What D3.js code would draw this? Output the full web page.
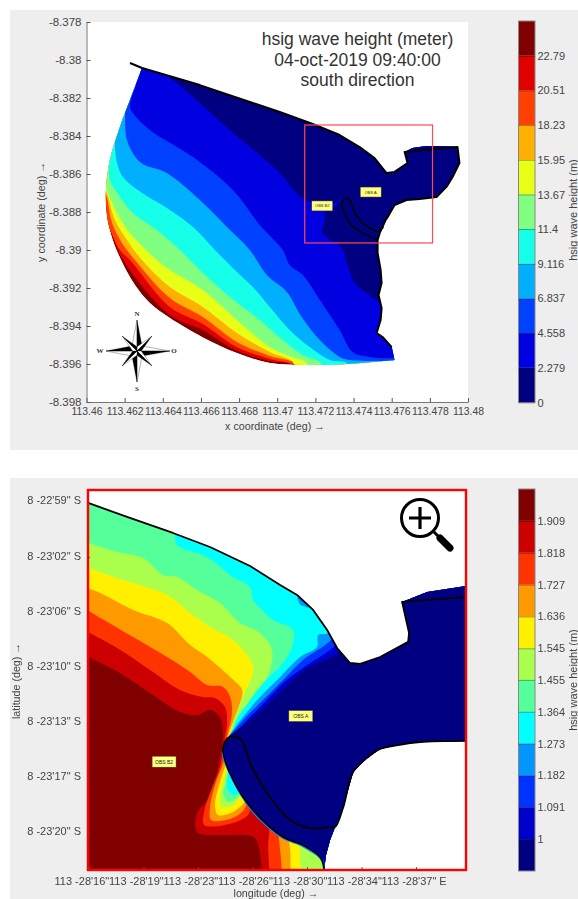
<!DOCTYPE html>
<html>
<head>
<meta charset="utf-8">
<script src="https://cdn.jsdelivr.net/npm/d3@7"></script>
<style>
  html, body { margin: 0; padding: 0; background: #fff; }
  svg { display: block; filter: blur(0.5px); font-family: "Liberation Sans", Arial, sans-serif; }
  .tick text { fill: #444; }
  .label { fill: #444; }
</style>
</head>
<body>
<svg id="chart" width="578" height="899"></svg>
<script>
// ---------- upper map: wave height, whole bay ----------
const titleLines = ["hsig wave height (meter)", "04-oct-2019 09:40:00", "south direction"];
const topLonTicks = [113.46, 113.462, 113.464, 113.466, 113.468, 113.47, 113.472, 113.474, 113.476, 113.478, 113.48];
const topLatTicks = [-8.378, -8.38, -8.382, -8.384, -8.386, -8.388, -8.39, -8.392, -8.394, -8.396, -8.398];
const topEdges = [0, 2.279, 4.558, 6.837, 9.116, 11.4, 13.67, 15.95, 18.23, 20.51, 22.79, 25.07];
const topColors = ["#000080", "#0000e0", "#0040ff", "#00b0ff", "#16ffe8", "#80ff80", "#e8ff16", "#ffb000", "#ff4000", "#e00000", "#800000"];

// upper map points: [thousandths of a degree east of 113.46, thousandths south of -8.378]
const topShore = [[2.91,2.42],[5.94,3.32],[8.56,4.21],[10.13,4.74],[11.86,5.37],[13.27,5.95],[14.32,6.58],[15.10,7.16],[15.73,7.95],[16.15,7.89],[16.83,7.42],[16.68,6.84],[17.09,6.63],[17.83,6.53],[18.51,6.53],[19.45,6.58],[19.55,7.42],[19.19,8.16],[18.87,8.68],[18.35,9.21],[17.46,9.32],[16.78,9.37],[16.15,9.63],[15.79,10.26],[15.68,10.42],[15.37,11.11],[15.26,11.47],[15.26,12.16],[15.42,13.05],[15.47,13.74],[15.31,14.37],[15.47,15.05],[15.42,15.68],[15.21,16.37],[15.52,16.58],[16.0,17.11],[16.15,17.79]];
const topArc = [[16.15,17.79],[13.64,18.0],[11.34,18.05],[9.61,17.95],[7.88,17.42],[6.10,16.6],[4.37,15.58],[3.32,14.79],[2.54,13.84],[1.86,12.63],[1.34,11.37],[1.07,10.16],[1.02,8.84],[1.23,7.26],[1.75,5.53],[2.28,4.11],[2.91,2.42]];
const topCoast = [[2.28,2.16],[2.91,2.42],[5.94,3.32],[8.56,4.21],[10.13,4.74],[11.86,5.37],[13.27,5.95],[14.32,6.58],[15.10,7.16],[15.73,7.95],[16.15,7.89],[16.83,7.42],[16.68,6.84],[17.62,6.74],[19.45,6.58],[19.55,7.42],[19.19,8.16],[18.87,8.68],[18.35,9.21],[17.46,9.32],[16.78,9.37],[16.15,9.63],[15.79,10.26],[15.68,10.42],[15.37,11.11],[15.26,11.47],[15.26,12.16],[15.42,13.05],[15.47,13.74],[15.31,14.37],[15.47,15.05],[15.42,15.68],[15.21,16.37],[15.52,16.58],[16.0,17.11]];
const topBreakwater = [[15.26,11.47],[14.48,11.11],[13.88,10.68],[13.53,10.05],[13.38,9.53],[13.64,9.26],[13.85,9.47],[14.06,10.05],[14.48,10.58],[14.84,10.84],[15.26,11.0],[15.57,10.79]];

const top2279 = [[4.11,2.3],[4.11,2.63],[4.74,3.21],[5.94,4.26],[7.51,5.68],[9.08,7.0],[10.13,7.95],[11.44,9.37],[12.91,9.58],[13.38,9.21],[13.01,9.74],[12.49,10.05],[12.49,10.42],[12.38,11.11],[13.38,11.89],[13.64,12.63],[14.06,13.74],[14.69,14.26],[15.37,14.74],[16.5,15.0]];
const top4558 = [[2.91,2.32],[2.59,3.32],[2.28,4.47],[2.43,4.79],[3.32,5.68],[5.58,7.11],[7.67,8.84],[9.08,10.68],[10.29,12.0],[10.65,12.79],[11.34,13.32],[12.23,14.63],[13.27,16.21],[13.95,17.37],[14.84,17.63],[16.05,17.68],[16.6,17.5]];
const top6837 = [[2.02,5.05],[2.12,6.21],[2.80,7.37],[4.21,7.95],[5.94,9.37],[7.36,10.79],[8.56,12.0],[9.45,13.32],[10.50,14.21],[11.28,15.53],[12.23,16.74],[13.27,17.63],[13.80,17.79],[16.15,17.85],[17,17.9]];
const top9116 = [[1.49,6.47],[1.60,7.42],[1.91,8.16],[2.91,9.0],[4.21,9.79],[5.58,10.79],[6.73,12.0],[7.77,13.05],[8.72,13.95],[9.61,15.0],[10.65,16.21],[11.70,17.11],[12.75,17.79],[13.64,17.95],[13.64,18.3]];
const top114 = [[1.18,7.53],[1.23,8.32],[1.75,9.21],[2.43,10.05],[3.69,10.95],[4.90,12.0],[6.10,13.21],[7.51,14.47],[9.08,15.68],[10.29,16.74],[11.34,17.53],[12.23,17.89],[12.5,18.5]];
const top1367 = [[0.92,8.21],[1.07,8.84],[1.60,10.05],[2.28,11.11],[3.69,12.53],[4.37,13.05],[6.10,14.11],[7.88,15.68],[9.61,17.11],[10.50,17.53],[11.54,17.95],[11.7,18.4]];
const top1595 = [[0.81,8.47],[1.07,9.0],[1.49,10.42],[2.12,11.47],[2.91,12.53],[4.37,13.95],[6.10,15.0],[7.88,16.37],[9.61,17.37],[10.81,17.89],[11,18.4]];
const top1823 = [[0.76,8.74],[1.02,9.11],[1.34,10.58],[1.86,11.63],[2.54,12.53],[4.37,14.53],[6.10,15.53],[7.88,16.84],[9.61,17.58],[11.02,18.0],[11,18.5]];
const top2051 = [[0.71,9.63],[1.18,10.79],[1.75,12.0],[2.28,12.53],[4.37,15.0],[6.10,15.89],[7.88,17.11],[9.61,17.74],[10.81,18.05],[10.9,18.5]];
const top2279b = [[0.71,10.32],[1.07,10.63],[1.44,11.47],[1.91,12.53],[4.37,15.42],[6.10,16.21],[7.88,17.3],[9.61,17.86],[10.81,18.05],[10.9,18.5]];
// low side first in this list, same order as topColors
const topContours = [top2279, top4558, top6837, top9116, top114, top1367, top1595, top1823, top2051, top2279b];

// zoom window and observation labels on the upper map
const zoomBox = [[11.44,5.42],[18.14,11.63]];
const topObs = [{name: "OBS A", at: [14.9,8.95]}, {name: "OBS B2", at: [12.36,9.68]}];

// ---------- lower map: zoom on the harbour ----------
const botLonTicks = [16, 19.5, 23, 26.5, 30, 33.5, 37];
const botLonLabels = ["113 -28'16\"", "113 -28'19\"", "113 -28'23\"", "113 -28'26\"", "113 -28'30\"", "113 -28'34\"", "113 -28'37\" E"];
const botLatTicks = [59, 62.5, 66, 69.5, 73, 76.5, 80];
const botLatLabels = ["8 -22'59\" S", "8 -23'02\" S", "8 -23'06\" S", "8 -23'10\" S", "8 -23'13\" S", "8 -23'17\" S", "8 -23'20\" S"];
const botEdges = [0.909, 1, 1.091, 1.182, 1.273, 1.364, 1.455, 1.545, 1.636, 1.727, 1.818, 1.909, 2];
const botColors = ["#000080", "#0000cc", "#0033ff", "#0095ff", "#00ffff", "#55ff99", "#aaff4d", "#fff000", "#ff9900", "#ff3300", "#cc0000", "#800000"];

// lower map points: [arc seconds past 113 28', arc seconds past 8 22']
const botDomain = [[15.87,59.0],[18.44,59.95],[21.39,60.97],[23.77,61.86],[26.34,63.07],[28.27,64.27],[29.36,64.91],[30.39,65.86],[31.29,67.13],[31.93,68.28],[32.76,69.23],[33.41,69.29],[34.69,68.85],[36.49,67.89],[36.55,67.32],[36.10,65.35],[37.71,64.72],[40.21,64.34],[40.21,74.18],[37.26,74.25],[35.85,74.44],[34.69,74.69],[33.85,75.26],[32.96,76.15],[32.31,78.44],[31.80,79.65],[31.48,80.47],[31.22,81.43],[31.09,82.38],[15.87,82.38]];
const botCoastNorth = [[15.94,59.06],[18.44,59.95],[21.39,60.97],[23.77,61.86],[26.34,63.07],[28.27,64.27],[29.36,64.91],[30.39,65.86],[31.29,67.13],[31.93,68.28],[32.76,69.23],[33.41,69.29],[34.69,68.85],[36.49,67.89],[36.55,67.32],[36.10,65.35],[40.15,65.04]];
const botCoastSouth = [[31.09,82.38],[31.09,82.25],[30.84,81.55],[29.74,80.79],[28.46,80.28],[26.53,78.57],[25.25,76.66],[24.61,74.88],[24.61,74.57],[24.93,73.99],[25.51,73.93],[25.89,74.25],[26.34,75.58],[27.43,77.49],[28.91,79.20],[30.19,79.71],[31.48,79.65],[31.80,79.65],[32.31,78.44],[32.96,76.15],[33.85,75.26],[34.69,74.69],[35.85,74.44],[37.26,74.25],[40.15,74.18]];

const bot1 = [[31.99,67.77],[31.99,68.53],[29.87,69.67],[27.43,71.90],[26.21,72.98],[24.93,73.93],[24.61,74.44],[24.72,74.88],[25.36,76.66],[26.6,78.55],[28.5,80.25],[29.85,80.75],[31.1,81.7],[31.2,83.02]];
const bot1091 = [[31.80,67.45],[31.80,68.09],[31.29,68.53],[30.0,69.36],[28.46,70.50],[27.30,71.71],[26.15,72.85],[25.38,73.68],[25.06,73.99],[24.66,74.88],[25.3,76.68],[26.53,78.57],[28.46,80.28],[29.8,80.8],[31.05,81.75],[31.15,83.02]];
const bot1182 = [[31.61,66.85],[31.61,67.64],[31.16,68.09],[29.74,69.04],[28.46,70.31],[27.18,71.58],[26.02,72.72],[25.25,73.61],[24.99,73.99],[24.6,74.88],[25.25,76.7],[26.47,78.6],[28.4,80.3],[29.74,80.85],[31.0,81.8],[31.09,83.02]];
const bot1273 = [[31.35,66.62],[31.35,67.32],[30.71,67.45],[30.64,68.21],[29.55,68.85],[28.27,70.12],[26.98,71.39],[25.89,72.66],[25.25,73.49],[24.93,73.99],[24.54,74.88],[25.18,76.66],[26.41,78.63],[28.33,80.35],[29.68,80.92],[30.96,81.87],[31.03,83.02]];
const bot1364 = [[21.52,60.5],[21.52,60.97],[21.65,61.73],[23.58,62.49],[25.25,63.77],[26.34,64.40],[26.53,65.23],[27.11,65.86],[27.82,66.50],[29.10,67.13],[29.04,68.21],[28.46,69.23],[27.18,70.50],[26.21,71.77],[25.38,73.04],[25.12,75.39],[24.86,76.98],[25.06,77.49],[25.57,77.55],[26.21,76.98],[30.96,81.74],[31.03,83.02]];
const bot1455 = [[15.42,61.4],[17.54,62.11],[19.47,62.56],[20.75,63.64],[21.65,63.77],[22.94,64.59],[24.41,65.42],[25.70,66.69],[26.98,67.32],[27.75,68.40],[27.62,69.67],[26.98,70.94],[26.15,72.02],[25.25,73.29],[24.99,75.39],[24.80,76.79],[24.61,77.49],[24.93,78.06],[25.57,77.74],[26.02,76.98],[30.71,81.11],[30.96,82.38],[30.96,83.02]];
const bot1545 = [[15.42,63.0],[18.18,63.96],[21.01,64.91],[22.49,66.05],[23.77,66.94],[25.25,67.77],[26.47,69.23],[26.53,69.86],[25.70,71.77],[25.06,73.68],[24.93,75.39],[24.67,76.66],[24.41,77.74],[24.54,78.38],[25.25,78.25],[25.70,77.74],[26.34,77.30],[29.55,80.35],[29.55,81.43],[29.62,83.02]];
const bot1636 = [[15.42,64.3],[16.71,64.78],[18.83,65.86],[21.01,66.69],[22.49,68.09],[23.58,68.85],[25.06,70.12],[25.83,70.94],[25.70,71.77],[24.93,73.93],[24.80,75.52],[24.41,76.79],[24.09,78.25],[24.29,78.89],[25.25,78.69],[25.89,78.19],[26.34,77.61],[28.59,79.84],[28.91,81.11],[28.91,83.02]];
const bot1727 = [[15.42,65.6],[18.83,67.58],[21.01,68.85],[22.49,69.80],[23.58,70.63],[24.61,70.75],[25.06,71.39],[25.18,72.41],[24.86,73.93],[24.67,75.39],[24.09,76.98],[23.77,78.38],[23.84,79.20],[25.06,79.14],[25.89,78.63],[26.34,77.93],[27.95,79.52],[28.27,81.11],[28.40,83.02]];
const bot1818 = [[15.42,67.0],[17.80,68.28],[19.92,69.67],[21.84,70.94],[23.32,71.39],[24.09,71.45],[24.73,72.02],[24.86,73.04],[24.73,73.93],[24.41,75.84],[23.77,77.49],[23.39,78.69],[23.39,79.52],[25.25,79.39],[26.21,78.89],[26.47,78.25],[27.50,79.33],[27.50,80.92],[27.62,83.02]];
const bot1909 = [[15.42,68.59],[17.99,69.86],[19.92,71.13],[21.84,72.34],[22.94,72.53],[23.77,72.21],[24.41,72.66],[24.61,73.68],[24.54,74.57],[24.22,76.22],[23.58,77.93],[22.94,78.76],[22.94,79.97],[24.41,80.16],[26.02,80.16],[26.66,80.35],[27.11,82.38],[27.11,83.02]];
const botContours = [bot1, bot1091, bot1182, bot1273, bot1364, bot1455, bot1545, bot1636, bot1727, bot1818, bot1909];
const botPatch = [[29.36,65.10],[29.74,65.04],[30.13,65.73],[29.55,65.54]];
const botObs = [{name: "OBS A", at: [29.6,72.6]}, {name: "OBS B2", at: [20.82,75.5]}];

const svg = d3.select("#chart");

// gray figure backgrounds
svg.append("rect").attr("x", 10).attr("y", 10).attr("width", 568).attr("height", 440).attr("fill", "#eeeeee");
svg.append("rect").attr("x", 10).attr("y", 478).attr("width", 568).attr("height", 421).attr("fill", "#eeeeee");

/* ~~~~~~~~~~~~~~~~~~~~~~~ upper map ~~~~~~~~~~~~~~~~~~~~~~~ */
const xTop = d3.scaleLinear().domain([113.46, 113.48]).range([86.5, 468]);
const yTop = d3.scaleLinear().domain([-8.378, -8.398]).range([22, 402]);
const topX = p => xTop(113.46 + p[0] / 1000);
const topY = p => yTop(-8.378 - p[1] / 1000);
const topCurve = d3.line().x(topX).y(topY).curve(d3.curveCatmullRom.alpha(0.5));
const topLine = d3.line().x(topX).y(topY);

svg.append("rect").attr("x", 86.5).attr("y", 22).attr("width", 381.5).attr("height", 380).attr("fill", "#fff");

// shore stays angular, the open sea side is a smooth arc
const topOutline = topLine(topShore) + topCurve(topArc).replace("M", "L") + "Z";
svg.append("clipPath").attr("id", "topClip").append("path").attr("d", topOutline);

const topMap = svg.append("g").attr("clip-path", "url(#topClip)");
topMap.append("path").attr("d", topOutline).attr("fill", topColors[10]);
// paint from the high contour down to the low one, each covers everything on its low side
d3.range(topContours.length - 1, -1, -1).forEach(i => {
    const c = topContours[i];
    const close = topLine([c[c.length - 1], [22, 22], [22, -1], [c[0][0], -1]]).replace("M", "L");
    topMap.append("path").attr("d", topCurve(c) + close + "Z").attr("fill", topColors[i]);
});

svg.append("path").attr("d", topLine(topCoast)).attr("fill", "none").attr("stroke", "#000").attr("stroke-width", 2).attr("stroke-linejoin", "round");
svg.append("path").attr("d", topCurve(topBreakwater)).attr("fill", "none").attr("stroke", "#000").attr("stroke-width", 1.6);

svg.append("rect")
    .attr("x", topX(zoomBox[0])).attr("y", topY(zoomBox[0]))
    .attr("width", topX(zoomBox[1]) - topX(zoomBox[0]))
    .attr("height", topY(zoomBox[1]) - topY(zoomBox[0]))
    .attr("fill", "none").attr("stroke", "#ff4a4a").attr("stroke-width", 1.2);

drawObs(topObs, topX, topY, 21, 10, 4);

// axes
const topXAxis = d3.axisBottom(xTop).tickValues(topLonTicks).tickFormat(d => +d.toFixed(3)).tickSizeInner(-4).tickSizeOuter(0).tickPadding(6);
const topYAxis = d3.axisLeft(yTop).tickValues(topLatTicks).tickFormat(d => +d.toFixed(3)).tickSizeInner(-4).tickSizeOuter(0).tickPadding(5);
styleAxis(svg.append("g").attr("transform", "translate(0,402)").call(topXAxis), 10.4, "#777");
styleAxis(svg.append("g").attr("transform", "translate(86.5,0)").call(topYAxis), 11.5, "#777");

titleLines.forEach((t, i) => {
    svg.append("text").attr("x", 357.5).attr("y", 45 + i * 20.5).attr("text-anchor", "middle")
        .attr("font-size", 17.5).attr("fill", "#333").text(t);
});

svg.append("text").attr("class", "label").attr("x", 275).attr("y", 430).attr("text-anchor", "middle")
    .attr("font-size", 10.7).text("x coordinate (deg) →");
svg.append("text").attr("class", "label").attr("transform", "translate(45,212) rotate(-90)").attr("text-anchor", "middle")
    .attr("font-size", 10.7).text("y coordinate (deg) →");

drawCompass(137, 351);
drawColorbar(topEdges, topColors, topEdges.slice(0, -1), d => d, 21, 402.5, 210);

/* ~~~~~~~~~~~~~~~~~~~~~~~ lower map ~~~~~~~~~~~~~~~~~~~~~~~ */
const xBot = d3.scaleLinear().domain([15.87, 40.27]).range([87, 467]);
const yBot = d3.scaleLinear().domain([58.24, 82.38]).range([490, 870]);
const botX = p => xBot(p[0]);
const botY = p => yBot(p[1]);
const botCurve = d3.line().x(botX).y(botY).curve(d3.curveCatmullRom.alpha(0.5));
const botLine = d3.line().x(botX).y(botY);

svg.append("rect").attr("x", 87).attr("y", 490).attr("width", 380).attr("height", 380).attr("fill", "#fff");
svg.append("clipPath").attr("id", "botClip").append("path").attr("d", botLine(botDomain) + "Z");

const botMap = svg.append("g").attr("clip-path", "url(#botClip)");
botMap.append("path").attr("d", botLine(botDomain) + "Z").attr("fill", botColors[11]);
d3.range(botContours.length - 1, -1, -1).forEach(i => {
    const c = botContours[i];
    const close = botLine([c[c.length - 1], [42, 84], [42, 57], [c[0][0], 57]]).replace("M", "L");
    botMap.append("path").attr("d", botCurve(c) + close + "Z").attr("fill", botColors[i]);
    if (i == 3) botMap.append("path").attr("d", botLine(botPatch) + "Z").attr("fill", botColors[3]);
});

svg.append("path").attr("d", botLine(botCoastNorth)).attr("fill", "none").attr("stroke", "#000").attr("stroke-width", 1.8).attr("stroke-linejoin", "round");
svg.append("path").attr("d", botCurve(botCoastSouth)).attr("fill", "none").attr("stroke", "#000").attr("stroke-width", 1.8);

drawObs(botObs, botX, botY, 24, 11, 5);

const botXAxis = d3.axisBottom(xBot).tickValues(botLonTicks).tickFormat((d, i) => botLonLabels[i]).tickSizeInner(-3).tickSizeOuter(0).tickPadding(7);
const botYAxis = d3.axisLeft(yBot).tickValues(botLatTicks).tickFormat((d, i) => botLatLabels[i]).tickSizeInner(-3).tickSizeOuter(0).tickPadding(6);
const botXG = svg.append("g").attr("transform", "translate(0,870)").call(botXAxis);
const botYG = svg.append("g").attr("transform", "translate(87,0)").call(botYAxis);
styleAxis(botXG, 11, "none");
styleAxis(botYG, 11, "none");
botXG.selectAll(".tick text").attr("text-anchor", "start").attr("dx", -35);
botYG.selectAll(".tick text").attr("dy", "0.18em");

// red frame goes above the map
svg.append("rect").attr("x", 88).attr("y", 490).attr("width", 378).attr("height", 380)
    .attr("fill", "none").attr("stroke", "#ff0000").attr("stroke-width", 2.4);

svg.append("text").attr("class", "label").attr("x", 276).attr("y", 897).attr("text-anchor", "middle")
    .attr("font-size", 10.7).text("longitude (deg) →");
svg.append("text").attr("class", "label").attr("transform", "translate(20,681) rotate(-90)").attr("text-anchor", "middle")
    .attr("font-size", 10.7).text("latitude (deg) →");

drawMagnifier(420, 518);
drawColorbar(botEdges, botColors, botEdges.slice(1, -1), d => d, 489, 871, 680);

/* ~~~~~~~~~~~~~~~~~~~~~~~ helpers ~~~~~~~~~~~~~~~~~~~~~~~ */
function styleAxis(g, size, lineColor) {
    g.selectAll(".tick text").attr("font-size", size).attr("font-family", "Liberation Sans, Arial, sans-serif");
    g.selectAll(".tick line").attr("stroke", "#555");
    g.select(".domain").attr("stroke", lineColor).attr("stroke-width", 1);
}

function drawObs(list, fx, fy, w, h, size) {
    const tag = svg.append("g").selectAll("g").data(list).enter().append("g")
        .attr("transform", d => `translate(${fx(d.at)},${fy(d.at)})`);
    tag.append("rect").attr("x", -w / 2).attr("y", -h / 2).attr("width", w).attr("height", h)
        .attr("fill", "#ffff80").attr("stroke", "#333").attr("stroke-width", 0.5);
    tag.append("text").attr("text-anchor", "middle").attr("y", size * 0.36)
        .attr("font-size", size).attr("fill", "#222").text(d => d.name);
}

function drawColorbar(edges, colors, ticks, fmt, top, bottom, labelY) {
    const y = d3.scaleLinear().domain([edges[0], edges[edges.length - 1]]).range([bottom, top]);
    const bar = svg.append("g");
    bar.selectAll("rect").data(colors).enter().append("rect")
        .attr("x", 518.5).attr("width", 16.5)
        .attr("y", (c, i) => y(edges[i + 1]))
        .attr("height", (c, i) => y(edges[i]) - y(edges[i + 1]))
        .attr("fill", c => c);
    bar.append("rect").attr("x", 518.5).attr("y", top).attr("width", 16.5).attr("height", bottom - top)
        .attr("fill", "none").attr("stroke", "#888");

    const axis = d3.axisRight(y).tickValues(ticks).tickFormat(fmt).tickSizeInner(0).tickSizeOuter(0).tickPadding(2.5);
    const g = svg.append("g").attr("transform", "translate(535,0)").call(axis);
    styleAxis(g, 11, "none");
    g.selectAll(".tick").append("line").attr("x1", -16.5).attr("x2", 0)
        .attr("stroke", "#000").attr("stroke-opacity", 0.45).attr("stroke-width", 0.7);

    svg.append("text").attr("class", "label").attr("transform", `translate(577,${labelY}) rotate(-90)`)
        .attr("text-anchor", "middle").attr("font-size", 11).text("hsig wave height (m)");
}

function drawCompass(cx, cy) {
    const rose = svg.append("g").attr("transform", `translate(${cx},${cy})`);
    const arms = [[0, 31], [180, 31], [90, 33], [270, 31], [45, 21], [135, 21], [225, 21], [315, 21]];
    arms.forEach(([angle, len]) => {
        const w = len > 25 ? 5 : 3;
        const a = rose.append("g").attr("transform", `rotate(${angle})`);
        a.append("path").attr("d", `M0,${-len}L${-w},${-w}L0,0Z`).attr("fill", "#fff").attr("stroke", "#000").attr("stroke-width", 0.3);
        a.append("path").attr("d", `M0,${-len}L${w},${-w}L0,0Z`).attr("fill", "#000").attr("stroke", "#000").attr("stroke-width", 0.3);
    });
    [["N", 0, -35], ["S", 0, 40], ["W", -37, 2], ["O", 37, 2]].forEach(([t, dx, dy]) => {
        rose.append("text").attr("x", dx).attr("y", dy).attr("text-anchor", "middle")
            .attr("font-family", "Liberation Serif, serif").attr("font-size", 7).attr("font-weight", "bold").attr("fill", "#333").text(t);
    });
}

function drawMagnifier(cx, cy) {
    const icon = svg.append("g").attr("transform", `translate(${cx},${cy})`);
    icon.append("circle").attr("r", 18.5).attr("fill", "none").attr("stroke", "#000").attr("stroke-width", 3);
    icon.append("path").attr("d", "M-11,0H11M0,-11V11").attr("stroke", "#000").attr("stroke-width", 3.2);
    icon.append("path").attr("d", "M14,14L19,19").attr("stroke", "#000").attr("stroke-width", 3);
    icon.append("path").attr("d", "M20,20L30,30").attr("stroke", "#000").attr("stroke-width", 7).attr("stroke-linecap", "round");
}
</script>
</body>
</html>
